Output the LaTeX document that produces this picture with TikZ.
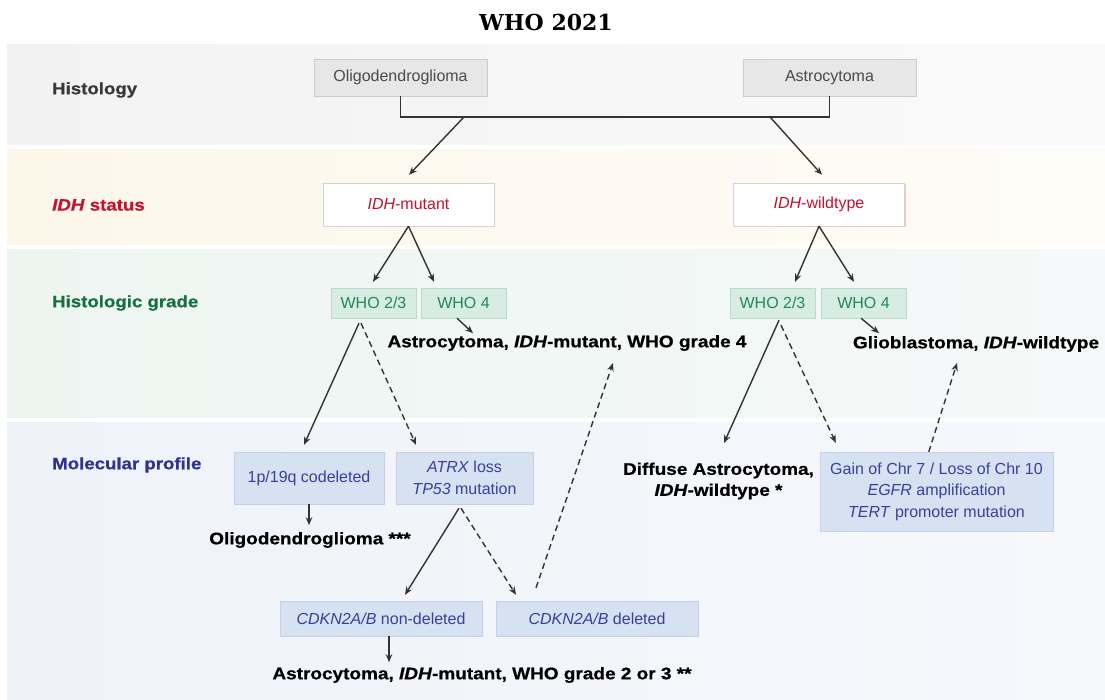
\documentclass[tikz,border=0pt]{standalone}
\usepackage{fontspec}
\setmainfont{Liberation Sans}
\newfontfamily\heavyfont{Liberation Sans}[FakeStretch=1.13,FakeBold=0.6]
\newfontfamily\titlefont{DejaVu Serif}
\usetikzlibrary{arrows.meta,shadows,calc}
\definecolor{ink}{HTML}{333333}
\definecolor{gL}{HTML}{F2F2F2}\definecolor{gR}{HTML}{FAFAFA}
\definecolor{yL}{HTML}{FDF7EA}\definecolor{yR}{HTML}{FEFCF7}
\definecolor{grL}{HTML}{EDF5F1}\definecolor{grR}{HTML}{F5F9F9}
\definecolor{bL}{HTML}{EFF2F9}\definecolor{bR}{HTML}{F6F8FC}
\definecolor{histfill}{HTML}{E7E7E7}\definecolor{histdraw}{HTML}{CBCBCB}\definecolor{histtext}{HTML}{4A4A4A}
\definecolor{idhdraw}{HTML}{D2D2D2}\definecolor{idhred}{HTML}{C8102E}
\definecolor{whofill}{HTML}{D7ECE3}\definecolor{whodraw}{HTML}{BCD9CB}\definecolor{whotext}{HTML}{1F8A55}
\definecolor{molfill}{HTML}{D6E1F2}\definecolor{moldraw}{HTML}{C5D0E7}\definecolor{moltext}{HTML}{3C3F9C}
\definecolor{lblgray}{HTML}{383838}\definecolor{lblred}{HTML}{C41230}
\definecolor{lblgreen}{HTML}{17703F}\definecolor{lblblue}{HTML}{2E3290}
\tikzset{
  band/.style={draw=none},
  shadowed/.style={drop shadow={shadow xshift=1pt,shadow yshift=-1.2pt,opacity=0.15,fill=black}},
  basebox/.style={shadowed,inner sep=2pt,align=center,font=\fontsize{16}{21.5}\selectfont},
  histbox/.style={basebox,draw=histdraw,fill=histfill,text=histtext,minimum width=173pt,minimum height=37pt},
  idhbox/.style={basebox,draw=idhdraw,fill=white,text=idhred,minimum width=171pt,minimum height=43pt},
  whobox/.style={basebox,draw=whodraw,fill=whofill,text=whotext,minimum width=85pt,minimum height=30pt},
  molbox/.style={basebox,draw=moldraw,fill=molfill,text=moltext},
  rowlabel/.style={anchor=west,inner sep=0pt,font=\heavyfont\bfseries\fontsize{16.5}{20}\selectfont},
  result/.style={inner sep=0pt,align=center,text=black,font=\heavyfont\bfseries\fontsize{16.8}{21}\selectfont},
  ln/.style={draw=ink,line width=1.4pt},
  arr/.style={ln,-{Stealth[length=8pt,width=6.5pt]}},
  darr/.style={arr,dash pattern=on 6pt off 4pt},
}
\begin{document}
\begin{tikzpicture}[x=1pt,y=-1pt]
\useasboundingbox (0,0) rectangle (1105,700);
\fill[white] (0,0) rectangle (1105,700);
% bands
\path[band,left color=gL,right color=gR] (7,45) rectangle (1105,145);
\path[band,left color=yL,right color=yR] (7,150) rectangle (1105,245);
\path[band,left color=grL,right color=grR] (7,250) rectangle (1105,417);
\path[band,left color=bL,right color=bR] (7,422) rectangle (1105,700);
% title
\node[inner sep=0pt,font=\titlefont\bfseries\fontsize{22}{26}\selectfont] (title) at (546,22) {WHO 2021};
% row labels
\node[rowlabel,text=lblgray] (lhist) at (52,90) {Histology};
\node[rowlabel,text=lblred] (lidh) at (52,205) {\textit{IDH} status};
\node[rowlabel,text=lblgreen] (lgrade) at (52,303) {Histologic grade};
\node[rowlabel,text=lblblue] (lmol) at (52,465) {Molecular profile};
% boxes
\node[histbox] (oligo) at (400.5,77.5) {Oligodendroglioma};
\node[histbox] (astro) at (829.5,77.5) {Astrocytoma};
\node[idhbox] (im) at (408.5,204.5) {\textit{IDH}-mutant};
\node[idhbox] (iw) at (819,204.5) {\textit{IDH}-wildtype};
\node[whobox] (g1) at (373.5,303) {WHO 2/3};
\node[whobox] (g2) at (463.5,303) {WHO 4};
\node[whobox] (g3) at (772.5,303) {WHO 2/3};
\node[whobox] (g4) at (863.5,303) {WHO 4};
\node[molbox,minimum width=150pt,minimum height=52pt] (p1) at (309,478) {1p/19q codeleted};
\node[molbox,minimum width=137pt,minimum height=52pt] (atrx) at (464.5,478) {\textit{ATRX} loss\\\textit{TP53} mutation};
\node[molbox,minimum width=233pt,minimum height=79pt] (gain) at (936.5,491.5) {Gain of Chr 7 / Loss of Chr 10\\\textit{EGFR} amplification\\\textit{TERT} promoter mutation};
\node[molbox,minimum width=202pt,minimum height=35pt] (nondel) at (381,618.5) {\textit{CDKN2A/B} non-deleted};
\node[molbox,minimum width=202pt,minimum height=35pt] (del) at (597,618.5) {\textit{CDKN2A/B} deleted};
% results
\node[result] (at1) at (567,343) {Astrocytoma, \textit{IDH}-mutant, WHO grade 4};
\node[result] (glio) at (976,344) {Glioblastoma, \textit{IDH}-wildtype};
\node[result] (oligotxt) at (310,540) {Oligodendroglioma ***};
\node[result] (at2) at (482,675) {Astrocytoma, \textit{IDH}-mutant, WHO grade 2 or 3 **};
\node[result] (diffuse) at (718.5,481) {Diffuse Astrocytoma,\\\textit{IDH}-wildtype *};
% coordinates
\coordinate (br) at (829.5,117);
\coordinate (jl) at (464,117);
\coordinate (jr) at (770,117);
\coordinate (dtip) at (724,443);
\coordinate (gtip) at (957,363);
\coordinate (atip) at (613,363);
% connectors
\draw[ln] (oligo.south) |- (br) -- (astro.south);
\draw[arr] (jl) -- ($(im.north)+(0.5,-8)$);
\draw[arr] (jr) -- ($(iw.north)+(3,-8)$);
\draw[arr] (im.south) -- ($(g1.north)+(-0.5,-6)$);
\draw[arr] (im.south) -- ($(g2.north)+(-29.5,-6)$);
\draw[arr] (iw.south) -- ($(g3.north)+(22.5,-6)$);
\draw[arr] (iw.south) -- ($(g4.north)+(-9.5,-6)$);
\draw[arr] ($(g2.south)+(-6.5,0)$) -- ($(g2.south)+(9.5,15)$);
\draw[arr] ($(g4.south)+(-2.5,0)$) -- ($(g4.south)+(15.5,15)$);
\draw[arr] ($(g1.south)+(-14.5,5)$) -- ($(p1.north)+(-5,-7)$);
\draw[darr] ($(g1.south)+(-12.5,5)$) -- ($(atrx.north)+(-48.5,-7)$);
\draw[arr] ($(g3.south)+(6.5,2)$) -- (dtip);
\draw[darr] ($(g3.south)+(8.5,7)$) -- ($(gain.north west)+(16,-9)$);
\draw[darr] ($(gain.north west)+(109,0)$) -- (gtip);
\draw[arr] (p1.south) -- ($(p1.south)+(0,21)$);
\draw[arr] ($(atrx.south)+(-5.5,4)$) -- ($(nondel.north)+(24,-6)$);
\draw[darr] ($(atrx.south)+(-3.5,4)$) -- ($(del.north)+(-81,-6)$);
\draw[darr] ($(del.north)+(-61,-13)$) -- (atip);
\draw[arr] ($(nondel.south)+(8,0)$) -- ($(nondel.south)+(8,26)$);
\end{tikzpicture}
\end{document}
